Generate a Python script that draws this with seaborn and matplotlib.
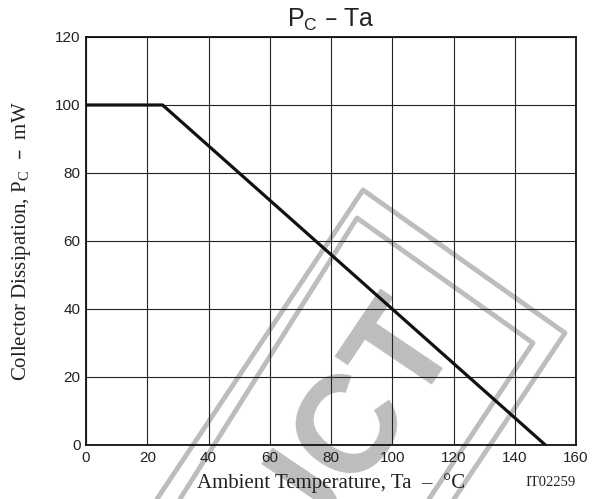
import matplotlib
matplotlib.use('Agg')
import matplotlib.pyplot as plt
import seaborn as sns
import pandas as pd
from matplotlib.lines import Line2D

# derating curve points
ta = [0, 25, 150]
pc = [100, 100, 0]
x_ticks = [0, 20, 40, 60, 80, 100, 120, 140, 160]
y_ticks = [0, 20, 40, 60, 80, 100, 120]

data = pd.DataFrame({'Ta': ta, 'Pc': pc})

sns.set_theme(style='white')
plt.rcParams['font.family'] = ['Liberation Sans', 'DejaVu Sans']

fig = plt.figure(figsize=(6.02, 4.99), dpi=100)
ax = fig.add_axes([86/602, 1 - 445/499, 490/602, 408/499])
ax.set_facecolor('none')
ax.set_zorder(2)

sns.lineplot(x='Ta', y='Pc', data=data, ax=ax, color='#111111', linewidth=2.3)

ax.set_xlim(0, 160)
ax.set_ylim(0, 120)
ax.set_xticks(x_ticks)
ax.set_yticks(y_ticks)
ax.grid(True, color='#222222', linewidth=0.8)
ax.tick_params(length=0, labelsize=11, pad=4, colors='#222222')
for s in ax.spines.values():
    s.set_color('#111111')
    s.set_linewidth(1.3)

serif = ['Liberation Serif', 'DejaVu Serif']
ax.set_xlabel('Ambient Temperature, Ta  –  °C', family=serif, fontsize=15, color='#222222')
ax.xaxis.set_label_coords(0.5, -0.068)
ax.set_ylabel(r'Collector Dissipation, P$_{\mathregular{C}}$  –  mW', family=serif,
              fontsize=15, color='#222222')
ax.yaxis.set_label_coords(-0.108, 0.5)
ax.set_title(r'P$_{\mathregular{C}}$ – Ta', fontsize=18, pad=7, color='#222222')
fig.text(576/602, 1 - 483/499, 'IT02259', family=serif, fontsize=10.5,
         ha='right', va='center', color='#222222')

# faint stamp in the background
grey = '#bdbdbd'
def px(x, y):
    return x / 602, 1 - y / 499
for pts in ([(157, 499), (363, 190), (565, 333), (454, 499)],
            [(180, 499), (357, 218), (533, 343), (429, 499)]):
    xs, ys = zip(*[px(*p) for p in pts])
    fig.add_artist(Line2D(xs, ys, color=grey, linewidth=3.5, zorder=0.5,
                          transform=fig.transFigure))
tx, ty = px(458, 332)
fig.text(tx, ty, 'PRODUCT', fontsize=100, fontweight='bold', color=grey, rotation=56,
         ha='right', va='baseline', rotation_mode='anchor', zorder=0.5)

fig.savefig('out.png', dpi=100)
